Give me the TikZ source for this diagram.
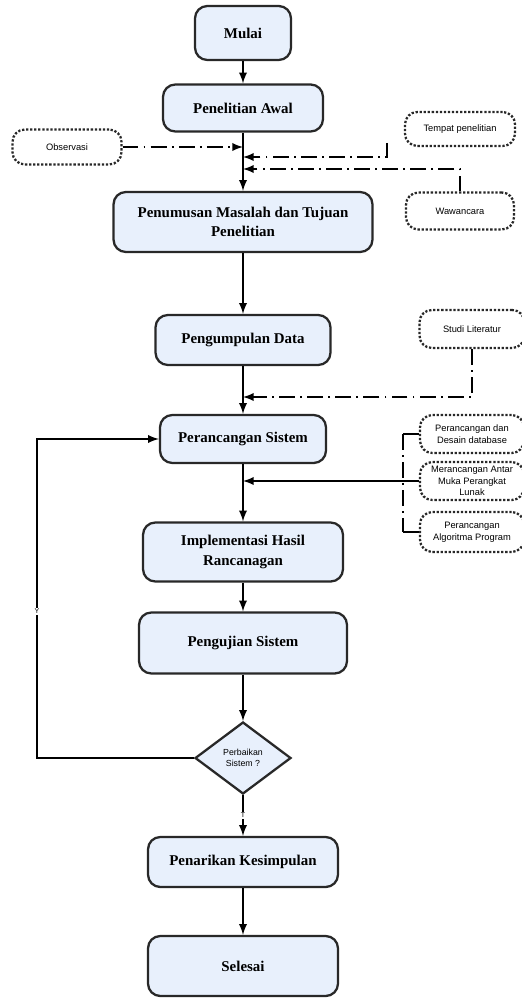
\documentclass[tikz,border=0pt]{standalone}
\usepackage{fontspec}
\setmainfont{Liberation Serif}
\newfontfamily\smallsans{Liberation Sans}
\usetikzlibrary{shapes.geometric}
\definecolor{boxfill}{RGB}{232,240,252}
\definecolor{boxline}{RGB}{40,40,40}
\tikzset{
  mainbox/.style={draw=boxline, line width=1.3pt, fill=boxfill, rounded corners=7pt,
    align=center, font=\fontsize{8.5}{11}\selectfont\bfseries},
  sidebox/.style={draw=boxline, densely dotted, line width=1.3pt, rounded corners=7pt,
    align=center, font=\smallsans\fontsize{5.3}{6.6}\selectfont, inner sep=1pt},
  dashdot/.style={line width=1.1pt, dash pattern=on 9pt off 3pt on 1pt off 3pt},
  lbl/.style={fill=white, inner sep=0.5pt, font=\smallsans\fontsize{4}{4}\selectfont}
}
\begin{document}
\begin{tikzpicture}[x=0.02cm, y=-0.02cm, >=latex, line width=1.1pt, draw=black]
  \useasboundingbox (0,0) rectangle (521,1003);
  % main flow
  \node[mainbox, minimum width=1.92cm, minimum height=1.08cm] (mulai) at (243,33) {Mulai};
  \node[mainbox, minimum width=3.2cm, minimum height=0.94cm] (awal) at (243,108) {Penelitian Awal};
  \node[mainbox, minimum width=5.18cm, minimum height=1.2cm] (rumus) at (243,222) {Penumusan Masalah dan Tujuan\\Penelitian};
  \node[mainbox, minimum width=3.5cm, minimum height=1.0cm] (kumpul) at (243,340) {Pengumpulan Data};
  \node[mainbox, minimum width=3.32cm, minimum height=0.96cm] (ranc) at (243,439) {Perancangan Sistem};
  \node[mainbox, minimum width=4.0cm, minimum height=1.18cm] (impl) at (243,552) {Implementasi Hasil\\Rancanagan};
  \node[mainbox, minimum width=4.16cm, minimum height=1.22cm] (uji) at (243,643) {Pengujian Sistem};
  \node[diamond, draw=boxline, line width=1.3pt, fill=boxfill, minimum width=1.92cm, minimum height=1.44cm,
    inner sep=0pt, align=center, font=\smallsans\fontsize{5}{6.2}\selectfont] (cek) at (243,758) {Perbaikan\\Sistem ?};
  \node[mainbox, minimum width=3.8cm, minimum height=1.0cm] (tarik) at (243,862) {Penarikan Kesimpulan};
  \node[mainbox, minimum width=3.8cm, minimum height=1.2cm] (selesai) at (243,966) {Selesai};
  % side boxes
  \node[sidebox, minimum width=2.18cm, minimum height=0.7cm] (obs) at (67,147) {Observasi};
  \node[sidebox, minimum width=2.2cm, minimum height=0.68cm] (tempat) at (460,129) {Tempat penelitian};
  \node[sidebox, minimum width=2.16cm, minimum height=0.74cm] (wawan) at (460,211) {Wawancara};
  \node[sidebox, minimum width=2.1cm, minimum height=0.76cm] (studi) at (472,329) {Studi Literatur};
  \node[sidebox, minimum width=2.08cm, minimum height=0.76cm] (db) at (472,434) {Perancangan dan\\Desain database};
  \node[sidebox, minimum width=2.08cm, minimum height=0.76cm] (ui) at (472,481) {Merancangan Antar\\Muka Perangkat\\Lunak};
  \node[sidebox, minimum width=2.08cm, minimum height=0.8cm] (algo) at (472,532) {Perancangan\\Algoritma Program};
  % joints
  \coordinate (t1) at (387,143);
  \coordinate (j1) at (243,157);
  \coordinate (j2) at (243,169);
  \coordinate (j3) at (243,397);
  \coordinate (j4) at (243,481);
  \coordinate (b1) at (403,434);
  \coordinate (b2) at (403,481);
  \coordinate (b3) at (403,532);
  \coordinate (k) at (37,758);
  % connectors
  \draw[->] (mulai) -- (awal);
  \draw[->] (awal) -- (rumus);
  \draw[->] (rumus) -- (kumpul);
  \draw[->] (kumpul) -- (ranc);
  \draw[->] (ranc) -- (impl);
  \draw[->] (impl) -- (uji);
  \draw[->] (uji) -- (cek);
  \draw[->] (cek) -- node[lbl]{T} (tarik);
  \draw[->] (tarik) -- (selesai);
  \draw[->] (cek.west) -- (k) |- node[lbl, pos=0.23]{Y} (ranc.west);
  \draw[dashdot,->] (obs) -- (obs -| awal.south);
  \draw[dashdot,->] (t1) |- (j1);
  \draw[dashdot,->] (wawan.north) |- (j2);
  \draw[dashdot,->] (studi.south) |- (j3);
  \draw[dashdot] (b1) -- (b3);
  \draw (b1) -- (db.west);
  \draw (b2) -- (ui.west);
  \draw (b3) -- (algo.west);
  \draw[->] (b2) -- (j4);
\end{tikzpicture}
\end{document}
